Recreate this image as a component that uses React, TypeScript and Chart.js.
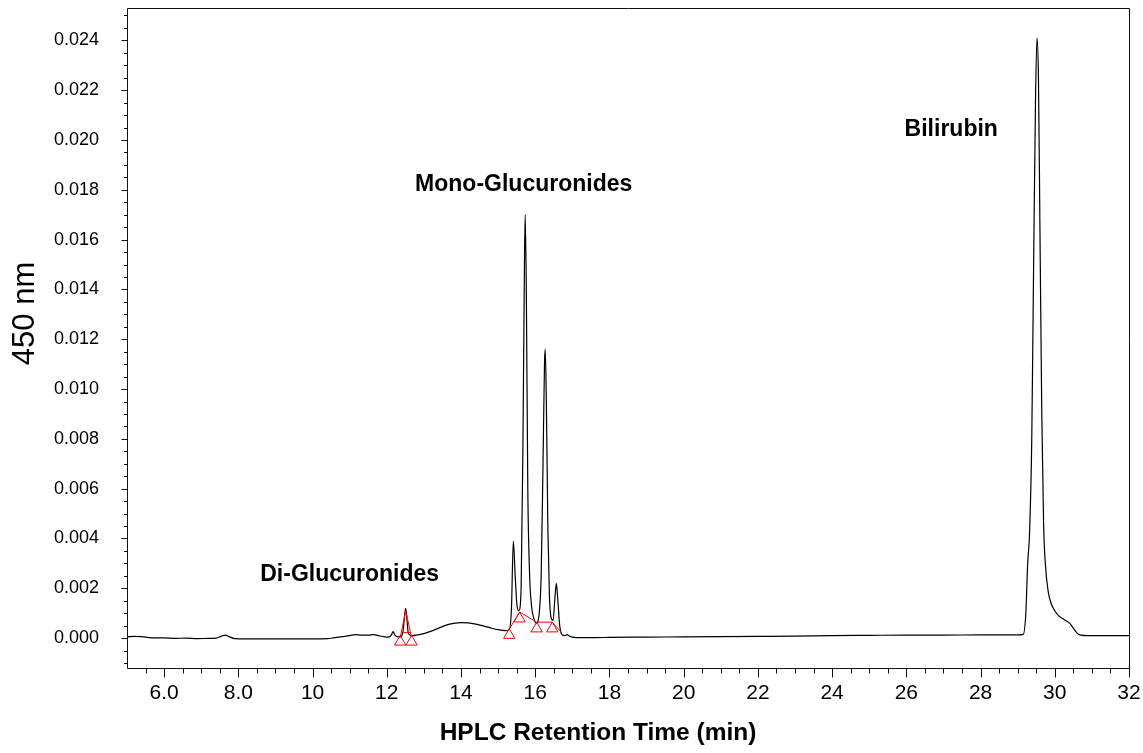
import React, { useEffect, useRef } from 'react';
import { Chart, registerables } from 'chart.js';

Chart.register(...registerables);

// ---- Chromatogram trace (retention time in min, absorbance at 450 nm) ----
const timeMin = [
  5.0, 5.2, 5.4, 5.6, 5.8, 6.0, 6.3, 6.6, 6.9, 7.2, 7.4, 7.55, 7.65, 7.75, 7.9,
  8.2, 8.6, 9.0, 9.5, 10.0, 10.4, 10.6, 10.8, 11.0, 11.15, 11.3, 11.5, 11.65, 11.8,
  11.95, 12.05, 12.12, 12.17, 12.22, 12.3, 12.38, 12.44, 12.48, 12.51, 12.54, 12.58,
  12.65, 12.8, 13.0, 13.2, 13.4, 13.6, 13.8, 14.0, 14.2, 14.4, 14.6, 14.8, 15.0,
  15.2, 15.3, 15.36, 15.41, 15.46, 15.51, 15.56, 15.62, 15.67, 15.71, 15.73, 15.76,
  15.8, 15.85, 15.9, 15.96, 16.03, 16.1, 16.16, 16.21, 16.25, 16.27, 16.3, 16.34,
  16.38, 16.43, 16.48, 16.53, 16.57, 16.61, 16.66, 16.72, 16.8, 16.86, 16.92, 17.05,
  17.2, 17.6, 18.0, 19.0, 20.0, 21.0, 22.0, 23.0, 24.0, 25.0, 26.0, 27.0, 28.0,
  29.0, 29.15, 29.22, 29.27, 29.32, 29.38, 29.43, 29.48, 29.52, 29.56, 29.6, 29.65,
  29.7, 29.75, 29.82, 29.9, 30.0, 30.1, 30.2, 30.3, 30.4, 30.5, 30.6, 30.7, 30.9,
  31.2, 31.6, 32.0,
];
const absorbance = [
  0.00005, 0.00007, 0.00006, 0.00002, 0.00001, 0.00001, -0.00001, 0.0, -0.00002, -0.00001, 0.0, 0.00008, 0.00012, 0.00006, -0.00002,
  -0.00003, -0.00003, -0.00003, -0.00003, -0.00003, -0.00002, 0.00002, 0.00006, 0.0001, 0.00014, 0.00012, 0.00012, 0.00014, 0.00009,
  0.00005, 0.00004, 0.00012, 0.00026, 0.00012, 0.00005, 0.00006, 0.0003, 0.0009, 0.0012, 0.0008, 0.0002,
  0.0001, 0.00012, 0.00018, 0.00028, 0.0004, 0.00052, 0.00059, 0.00062, 0.00061, 0.00056, 0.00049, 0.00041, 0.00034,
  0.0003, 0.00034, 0.0012, 0.0039, 0.0025, 0.0013, 0.0011, 0.002, 0.008, 0.015, 0.017, 0.014,
  0.006, 0.0025, 0.0013, 0.0008, 0.0006, 0.0009, 0.0025, 0.007, 0.011, 0.0116, 0.0095, 0.0045,
  0.0018, 0.0008, 0.0007, 0.0016, 0.0022, 0.0015, 0.0005, 0.00014, 0.0001, 0.00014, 0.00008, 0.00003,
  0.00002, 0.00002, 0.00003, 0.00004, 0.00005, 0.00006, 0.00007, 0.00008, 0.0001, 0.00011, 0.00012, 0.00012, 0.00013,
  0.00013, 0.00015, 0.001, 0.003, 0.0042, 0.008, 0.015, 0.0215, 0.0241, 0.0225, 0.0165, 0.009,
  0.0045, 0.0029, 0.0019, 0.0014, 0.0011, 0.0009, 0.0008, 0.0007, 0.0006, 0.0004, 0.0002, 0.00012, 0.0001,
  0.0001, 0.0001, 0.0001,
];

// ---- Integration baselines (red) ----
const diBaseTime = [12.37, 12.51, 12.66];
const diBaseValue = [0.00008, 0.0011, 0.00008];
const diDropTime = [12.43, 12.66];
const diDropValue = [0.00022, 0.00022];
const monoBaseTime = [15.3, 15.58, 16.04, 16.46, 16.7];
const monoBaseValue = [0.00036, 0.00105, 0.00064, 0.00064, 0.00024];

// ---- Peak start/end markers (red open triangles) ----
const markerTime = [12.36, 12.67, 15.3, 15.58, 16.04, 16.46];
const markerValue = [-0.00015, -0.00015, 0.00012, 0.00078, 0.00038, 0.00038];

// ---- Peak labels ----
const peakLabels = ['Di-Glucuronides', 'Mono-Glucuronides', 'Bilirubin'];
const peakLabelTime = [11.0, 15.69, 27.21];
const peakLabelValue = [0.00255, 0.0182, 0.0204];

// ---- Axes ----
const xMajorTicks = [6, 8, 10, 12, 14, 16, 18, 20, 22, 24, 26, 28, 30, 32];
const xTickLabels = ['6.0', '8.0', '10', '12', '14', '16', '18', '20', '22', '24', '26', '28', '30', '32'];
const yMajorTicks = [0, 0.002, 0.004, 0.006, 0.008, 0.01, 0.012, 0.014, 0.016, 0.018, 0.02, 0.022, 0.024];
const yTickLabels = ['0.000', '0.002', '0.004', '0.006', '0.008', '0.010', '0.012', '0.014', '0.016', '0.018', '0.020', '0.022', '0.024'];
const xRange = [5, 32];
const yRange = [-0.0012, 0.0253];
const xMinorStep = 0.5;
const yMinorStep = 0.0005;
const xTitle = 'HPLC Retention Time (min)';
const yTitle = '450 nm';

const FONT = 'Arial, "Liberation Sans", sans-serif';

const framePlugin = {
  id: 'framePlugin',
  afterDraw(chart: any) {
    const { ctx, chartArea, scales } = chart;
    const xs = scales.x;
    const ys = scales.y;
    const { left, right, top, bottom } = chartArea;
    ctx.save();
    // frame
    ctx.strokeStyle = '#111';
    ctx.lineWidth = 1;
    ctx.beginPath();
    ctx.moveTo(Math.round(left) + 0.5, Math.round(top) + 0.5);
    ctx.lineTo(Math.round(right) + 0.5, Math.round(top) + 0.5);
    ctx.lineTo(Math.round(right) + 0.5, Math.round(bottom) + 0.5);
    ctx.lineTo(Math.round(left) + 0.5, Math.round(bottom) + 0.5);
    ctx.closePath();
    ctx.stroke();
    // x ticks
    ctx.beginPath();
    for (let v = xRange[0] + xMinorStep; v <= xRange[1] + 1e-9; v += xMinorStep) {
      const px = Math.round(xs.getPixelForValue(v)) + 0.5;
      const isMajor = Math.abs(v / 2 - Math.round(v / 2)) < 1e-6;
      ctx.moveTo(px, Math.round(bottom) + 0.5);
      ctx.lineTo(px, Math.round(bottom) + 0.5 + (isMajor ? 9 : 5));
    }
    // y ticks
    for (let v = -0.001; v <= yRange[1] + 1e-9; v += yMinorStep) {
      const py = Math.round(ys.getPixelForValue(v)) + 0.5;
      const isMajor = Math.abs(v / 0.002 - Math.round(v / 0.002)) < 1e-6;
      ctx.moveTo(Math.round(left) + 0.5, py);
      ctx.lineTo(Math.round(left) + 0.5 - (isMajor ? 6 : 3.5), py);
    }
    ctx.stroke();

    // peak labels
    ctx.fillStyle = '#000';
    ctx.textAlign = 'center';
    ctx.textBaseline = 'middle';
    ctx.font = `bold 23px ${FONT}`;
    peakLabels.forEach((txt, i) => {
      ctx.fillText(txt, xs.getPixelForValue(peakLabelTime[i]), ys.getPixelForValue(peakLabelValue[i]));
    });

    // axis titles
    ctx.font = `bold 24.5px ${FONT}`;
    ctx.fillText(xTitle, 598, 733);
    ctx.font = `31px ${FONT}`;
    ctx.translate(25.5, 313.5);
    ctx.rotate(-Math.PI / 2);
    ctx.fillText(yTitle, 0, 0);
    ctx.restore();
  },
};

export default function App() {
  const canvasRef = useRef<HTMLCanvasElement | null>(null);

  useEffect(() => {
    if (!canvasRef.current) return;
    const trace = timeMin.map((t, i) => ({ x: t, y: absorbance[i] }));
    const diBase = diBaseTime.map((t, i) => ({ x: t, y: diBaseValue[i] }));
    const diDrop = diDropTime.map((t, i) => ({ x: t, y: diDropValue[i] }));
    const monoBase = monoBaseTime.map((t, i) => ({ x: t, y: monoBaseValue[i] }));
    const markers = markerTime.map((t, i) => ({ x: t, y: markerValue[i] }));

    const redLine = {
      borderColor: '#ff0000',
      borderWidth: 1,
      pointRadius: 0,
      fill: false,
      tension: 0,
    };

    const chart = new Chart(canvasRef.current, {
      type: 'line',
      data: {
        datasets: [
          {
            label: '450 nm',
            data: trace,
            borderColor: '#000',
            borderWidth: 1.2,
            pointRadius: 0,
            fill: false,
            cubicInterpolationMode: 'monotone',
            order: 3,
          },
          { label: 'di baseline', data: diBase, ...redLine, order: 2 },
          { label: 'di drop', data: diDrop, ...redLine, order: 2 },
          { label: 'mono baseline', data: monoBase, ...redLine, order: 2 },
          {
            label: 'markers',
            data: markers,
            showLine: false,
            pointStyle: 'triangle',
            pointRadius: 6.5,
            pointBorderColor: '#ff0000',
            pointBackgroundColor: 'rgba(0,0,0,0)',
            pointBorderWidth: 1,
            borderColor: '#ff0000',
            backgroundColor: 'rgba(0,0,0,0)',
            order: 1,
          },
        ],
      } as any,
      options: {
        animation: false,
        responsive: false,
        devicePixelRatio: 1,
        layout: { padding: { left: 0, right: 14, top: 8, bottom: 0 } },
        plugins: { legend: { display: false }, tooltip: { enabled: false } },
        events: [],
        scales: {
          x: {
            type: 'linear',
            min: xRange[0],
            max: xRange[1],
            grid: { display: false },
            border: { display: false },
            afterBuildTicks: (s: any) => {
              s.ticks = xMajorTicks.map((v) => ({ value: v }));
            },
            afterFit: (s: any) => {
              s.height = 85;
              s.paddingLeft = 0;
              s.paddingRight = 0;
            },
            ticks: {
              autoSkip: false,
              maxRotation: 0,
              padding: 5,
              color: '#000',
              font: { size: 21, family: FONT },
              callback: (v: any) => {
                const i = xMajorTicks.indexOf(Number(v));
                return i >= 0 ? xTickLabels[i] : '';
              },
            },
          },
          y: {
            type: 'linear',
            min: yRange[0],
            max: yRange[1],
            grid: { display: false },
            border: { display: false },
            afterBuildTicks: (s: any) => {
              s.ticks = yMajorTicks.map((v) => ({ value: v }));
            },
            afterFit: (s: any) => {
              s.width = 127;
              s.paddingTop = 0;
              s.paddingBottom = 0;
            },
            ticks: {
              autoSkip: false,
              padding: 20,
              color: '#000',
              font: { size: 18, family: FONT },
              callback: (v: any) => {
                const i = yMajorTicks.findIndex((m) => Math.abs(m - Number(v)) < 1e-9);
                return i >= 0 ? yTickLabels[i] : '';
              },
            },
          },
        },
      } as any,
      plugins: [framePlugin],
    });
    return () => chart.destroy();
  }, []);

  return (
    <div style={{ position: 'absolute', left: 0, top: 0, width: 1143, height: 753, background: '#fff' }}>
      <canvas ref={canvasRef} width={1143} height={753} />
    </div>
  );
}
